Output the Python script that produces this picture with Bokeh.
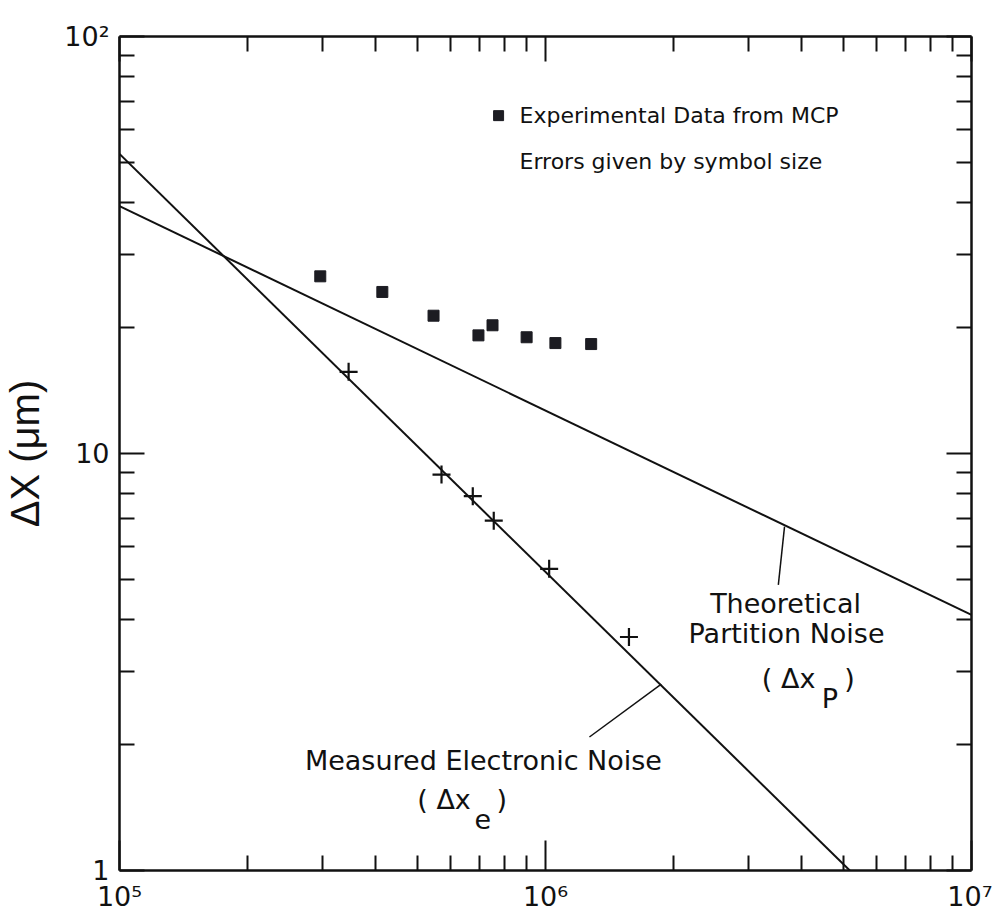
from bokeh.plotting import figure
from bokeh.models import LogAxis, FixedTicker, CustomJSTickFormatter
from bokeh.core.properties import value
from bokeh.embed import file_html
from bokeh.resources import INLINE

# ---- data ----
# Theoretical partition noise (straight line in log-log space)
partition_x = [1e5, 1e7]
partition_y = [39.2, 4.1]
# Measured electronic noise fit line
electronic_x = [1e5, 5.18e6]
electronic_y = [52.3, 1.0]
# Measured electronic noise points (+)
cross_x = [3.45e5, 5.7e5, 6.75e5, 7.56e5, 1.02e6, 1.57e6]
cross_y = [15.7, 8.9, 7.9, 6.9, 5.29, 3.63]
# Experimental data from MCP (squares)
mcp_x = [2.96e5, 4.14e5, 5.46e5, 6.96e5, 7.51e5, 9.03e5, 1.055e6, 1.28e6]
mcp_y = [26.6, 24.4, 21.4, 19.2, 20.3, 19.0, 18.4, 18.3]

# tick positions
x_major = [1e5, 1e6, 1e7]
x_minor = [m * 10 ** e for e in (5, 6) for m in range(2, 10)]
y_major = [1, 10, 100]
y_minor = [m * 10 ** e for e in (0, 1) for m in range(2, 10)]

# annotation anchors (data coordinates)
legend_sq_x, legend_sq_y = [7.76e5], [64.6]
legend_text_x = [8.69e5, 8.69e5]
legend_text_y = [64.6, 50.1]
legend_texts = ["Experimental Data from MCP", "Errors given by symbol size"]

part_leader_x = [3.64e6, 3.52e6]
part_leader_y = [6.68, 4.84]
elec_leader_x = [1.87e6, 1.268e6]
elec_leader_y = [2.80, 2.09]

FONT = "DejaVu Sans"
TICKFONT = "DejaVu Sans"
INK = "#111111"

p = figure(x_axis_type="log", y_axis_type="log",
           x_range=(1e5, 1e7), y_range=(1, 100),
           frame_width=852, frame_height=834,
           min_border_left=108, min_border_right=21,
           min_border_top=36, min_border_bottom=40,
           output_backend="svg", toolbar_location=None,
           background_fill_color="white", border_fill_color="white")
p.grid.visible = False
p.outline_line_color = None

xt = FixedTicker(ticks=x_major, minor_ticks=x_minor)
yt = FixedTicker(ticks=y_major, minor_ticks=y_minor)

xfmt = CustomJSTickFormatter(code="""
const e = Math.round(Math.log10(tick));
const sup = {5: "\u2075", 6: "\u2076", 7: "\u2077"};
return "10" + sup[e];
""")
yfmt = CustomJSTickFormatter(code="""
const e = Math.round(Math.log10(tick));
if (e == 0) return "1";
if (e == 1) return "10";
return "10\u00b2";
""")
blank = CustomJSTickFormatter(code="return '';")


def style_axis(ax, major_len):
    ax.axis_line_width = 2.5
    ax.axis_line_color = INK
    ax.major_tick_line_width = 2
    ax.minor_tick_line_width = 2
    ax.major_tick_line_color = INK
    ax.minor_tick_line_color = INK
    ax.major_tick_in = major_len
    ax.major_tick_out = 0
    ax.minor_tick_in = 15
    ax.minor_tick_out = 0


xa = p.xaxis[0]
xa.ticker = xt
xa.formatter = xfmt
style_axis(xa, 30)
xa.major_label_text_font = TICKFONT
xa.major_label_text_font_size = "27px"
xa.major_label_text_color = INK
xa.major_label_standoff = 10

ya = p.yaxis[0]
ya.ticker = yt
ya.formatter = yfmt
style_axis(ya, 25)
ya.major_label_text_font = TICKFONT
ya.major_label_text_font_size = "27px"
ya.major_label_text_color = INK
ya.major_label_standoff = 10
ya.axis_label = "\u0394X (\u03bcm)"
ya.axis_label_text_font = "Liberation Sans"
ya.axis_label_text_font_size = "40px"
ya.axis_label_text_font_style = "normal"
ya.axis_label_text_color = INK
ya.axis_label_standoff = 14

top = LogAxis(ticker=xt, formatter=blank, major_label_text_font_size="6px",
              major_label_standoff=0)
style_axis(top, 25)
p.add_layout(top, "above")
right = LogAxis(ticker=yt, formatter=blank, major_label_text_font_size="6px",
                major_label_standoff=0)
style_axis(right, 25)
p.add_layout(right, "right")

# lines
p.line(partition_x, partition_y, line_color=INK, line_width=2)
p.line(electronic_x, electronic_y, line_color=INK, line_width=2)
p.line(part_leader_x, part_leader_y, line_color=INK, line_width=1.5)
p.line(elec_leader_x, elec_leader_y, line_color=INK, line_width=1.5)

# markers
p.scatter(cross_x, cross_y, marker="cross", size=18, line_color=INK, line_width=2.2)
p.scatter(mcp_x, mcp_y, marker="square", size=11, fill_color="#1c1c22",
          line_color="#1c1c22")
p.scatter(legend_sq_x, legend_sq_y, marker="square", size=10, fill_color="#1c1c22",
          line_color="#1c1c22")

# legend texts
p.text(legend_text_x, legend_text_y, text=legend_texts, text_font=value(FONT),
       text_font_size=value("22px"), text_color=INK, text_align="left",
       text_baseline="middle")

# curve annotations
ann_kw = dict(text_font=value(FONT), text_font_size=value("27px"), text_color=INK,
              text_baseline="middle")
p.text([3.66e6, 3.68e6], [4.38, 3.71], text=["Theoretical", "Partition Noise"],
       text_align="center", **ann_kw)
p.text([3.22e6], [2.88], text=["( \u0394x"], text_align="left", **ann_kw)
p.text([4.45e6], [2.59], text=["P"], text_align="left", **ann_kw)
p.text([5.03e6], [2.88], text=[")"], text_align="left", **ann_kw)

p.text([7.15e5], [1.84], text=["Measured Electronic Noise"], text_align="center", **ann_kw)
p.text([5.0e5], [1.48], text=["( \u0394x"], text_align="left", **ann_kw)
p.text([6.81e5], [1.33], text=["e"], text_align="left", **ann_kw)
p.text([7.67e5], [1.48], text=[")"], text_align="left", **ann_kw)

open("out.html", "w").write(file_html(p, INLINE))
